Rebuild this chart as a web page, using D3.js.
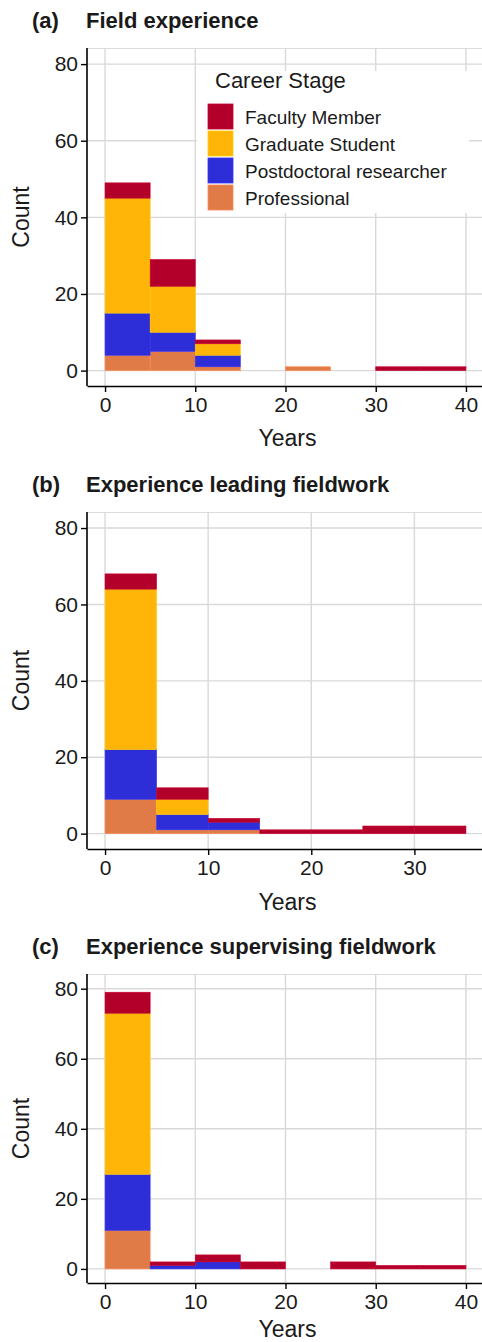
<!DOCTYPE html>
<html>
<head>
<meta charset="utf-8">
<script src="https://cdn.jsdelivr.net/npm/d3@7"></script>
<style>
  html, body { margin: 0; padding: 0; background: #fff; }
  svg { display: block; font-family: "Liberation Sans", Arial, sans-serif; }
</style>
</head>
<body>
<svg id="chart" width="482" height="1342"></svg>
<script>
// ---- Data ----
const stages = ["Faculty Member", "Graduate Student", "Postdoctoral researcher", "Professional"];
const stageColors = ["#B3002A", "#FFB508", "#2E2ED8", "#E07B48"];
const yTicks = [0, 20, 40, 60, 80];

// Panel (a) Field experience
const aTitle = "Field experience";
const aBinStarts = [0, 5, 10, 15, 20, 25, 30, 35];
const aFaculty  = [4, 7, 1, 0, 0, 0, 1, 1];
const aGrad     = [30, 12, 3, 0, 0, 0, 0, 0];
const aPostdoc  = [11, 5, 3, 0, 0, 0, 0, 0];
const aProf     = [4, 5, 1, 0, 1, 0, 0, 0];
const aXTicks   = [0, 10, 20, 30, 40];

// Panel (b) Experience leading fieldwork
const bTitle = "Experience leading fieldwork";
const bBinStarts = [0, 5, 10, 15, 20, 25, 30];
const bFaculty  = [4, 3, 1, 1, 1, 2, 2];
const bGrad     = [42, 4, 0, 0, 0, 0, 0];
const bPostdoc  = [13, 4, 2, 0, 0, 0, 0];
const bProf     = [9, 1, 1, 0, 0, 0, 0];
const bXTicks   = [0, 10, 20, 30];

// Panel (c) Experience supervising fieldwork
const cTitle = "Experience supervising fieldwork";
const cBinStarts = [0, 5, 10, 15, 20, 25, 30, 35];
const cFaculty  = [6, 1, 2, 2, 0, 2, 1, 1];
const cGrad     = [46, 0, 0, 0, 0, 0, 0, 0];
const cPostdoc  = [16, 1, 2, 0, 0, 0, 0, 0];
const cProf     = [11, 0, 0, 0, 0, 0, 0, 0];
const cXTicks   = [0, 10, 20, 30, 40];

const binWidth = 5;

// ---- Drawing ----
const svg = d3.select("#chart");
const color = d3.scaleOrdinal().domain(stages).range(stageColors);

function buildRows(starts, fac, grad, post, prof) {
  return starts.map((s, i) => ({
    x0: s, x1: s + binWidth,
    "Faculty Member": fac[i],
    "Graduate Student": grad[i],
    "Postdoctoral researcher": post[i],
    "Professional": prof[i]
  }));
}

const panels = [
  { tag: "(a)", title: aTitle, rows: buildRows(aBinStarts, aFaculty, aGrad, aPostdoc, aProf),
    ticks: aXTicks, xmax: 40, top: 48, bottom: 386, legend: true, yearsOff: 60 },
  { tag: "(b)", title: bTitle, rows: buildRows(bBinStarts, bFaculty, bGrad, bPostdoc, bProf),
    ticks: bXTicks, xmax: 35, top: 512, bottom: 849, legend: false, yearsOff: 61 },
  { tag: "(c)", title: cTitle, rows: buildRows(cBinStarts, cFaculty, cGrad, cPostdoc, cProf),
    ticks: cXTicks, xmax: 40, top: 974, bottom: 1283, legend: false, yearsOff: 54 }
];

const left = 87, right = 484;
const stackKeys = stages.slice().reverse(); // bottom: Professional ... top: Faculty

panels.forEach(p => {
  const pad = p.xmax * 0.05;
  const x = d3.scaleLinear().domain([-pad, p.xmax + pad]).range([left, right]);
  const y = d3.scaleLinear().domain([-4.02, 84.2]).range([p.bottom, p.top]);
  const g = svg.append("g");

  // grid
  g.append("line").attr("x1", left).attr("x2", right).attr("y1", p.top + 0.5).attr("y2", p.top + 0.5)
    .attr("stroke", "#dcdcdc").attr("stroke-width", 1.2);
  g.selectAll(".hg").data(yTicks).join("line")
    .attr("x1", left).attr("x2", right)
    .attr("y1", d => y(d)).attr("y2", d => y(d))
    .attr("stroke", "#d9d9d9").attr("stroke-width", 1.4);
  g.selectAll(".vg").data(p.ticks).join("line")
    .attr("x1", d => x(d)).attr("x2", d => x(d))
    .attr("y1", p.top).attr("y2", p.bottom)
    .attr("stroke", "#d9d9d9").attr("stroke-width", 1.4);

  // bars
  const series = d3.stack().keys(stackKeys)(p.rows);
  series.forEach(s => {
    const fill = color(s.key);
    g.append("g").selectAll("rect").data(s.filter(d => d[1] - d[0] > 0)).join("rect")
      .attr("x", d => x(d.data.x0))
      .attr("width", d => x(d.data.x1) - x(d.data.x0))
      .attr("y", d => y(d[1]))
      .attr("height", d => y(d[0]) - y(d[1]))
      .attr("fill", fill)
      .attr("stroke", d3.color(fill).brighter(0.35))
      .attr("stroke-width", 0.6);
  });

  // axes
  const yAxis = g.append("g").attr("transform", `translate(${left},0)`)
    .call(d3.axisLeft(y).tickValues(yTicks).tickSize(6).tickSizeOuter(0).tickPadding(3));
  const xAxis = g.append("g").attr("transform", `translate(0,${p.bottom})`)
    .call(d3.axisBottom(x).tickValues(p.ticks).tickSize(6).tickSizeOuter(0).tickPadding(5));
  [yAxis, xAxis].forEach(a => {
    a.select(".domain").attr("stroke", "#000").attr("stroke-width", 1.6);
    a.selectAll(".tick line").attr("stroke", "#000").attr("stroke-width", 1.4);
    a.selectAll(".tick text").attr("fill", "#1a1a1a").attr("font-size", 21)
      .attr("font-family", '"Liberation Sans", Arial, sans-serif');
  });
  // y domain line spans full panel
  yAxis.select(".domain").attr("d", `M0,${p.top}V${p.bottom}`);

  // axis titles
  g.append("text").attr("x", (left + right) / 2 + 2).attr("y", p.bottom + p.yearsOff)
    .attr("text-anchor", "middle").attr("font-size", 23).attr("fill", "#1a1a1a").text("Years");
  g.append("text")
    .attr("transform", `translate(29,${(p.top + p.bottom) / 2}) rotate(-90)`)
    .attr("text-anchor", "middle").attr("font-size", 23).attr("fill", "#1a1a1a").text("Count");

  // panel title
  g.append("text").attr("x", 32).attr("y", p.top - 20)
    .attr("font-size", 22).attr("font-weight", "bold").attr("fill", "#1a1a1a").text(p.tag);
  g.append("text").attr("x", 86).attr("y", p.top - 20)
    .attr("font-size", 22).attr("font-weight", "bold").attr("fill", "#1a1a1a").text(p.title);

  // legend
  if (p.legend) {
    const lg = g.append("g");
    lg.append("rect").attr("x", 197).attr("y", 71).attr("width", 272).attr("height", 142).attr("fill", "#fff");
    lg.append("text").attr("x", 215).attr("y", 88).attr("font-size", 22).attr("fill", "#1a1a1a").text("Career Stage");
    const items = lg.selectAll(".li").data(stages).join("g")
      .attr("transform", (d, i) => `translate(208,${104 + i * 27})`);
    items.append("rect").attr("width", 25).attr("height", 25)
      .attr("fill", d => color(d)).attr("stroke", d => d3.color(color(d)).brighter(0.35)).attr("stroke-width", 0.8);
    items.append("text").attr("x", 37).attr("y", 19.5).attr("font-size", 19).attr("fill", "#1a1a1a").text(d => d);
  }
});
</script>
</body>
</html>
